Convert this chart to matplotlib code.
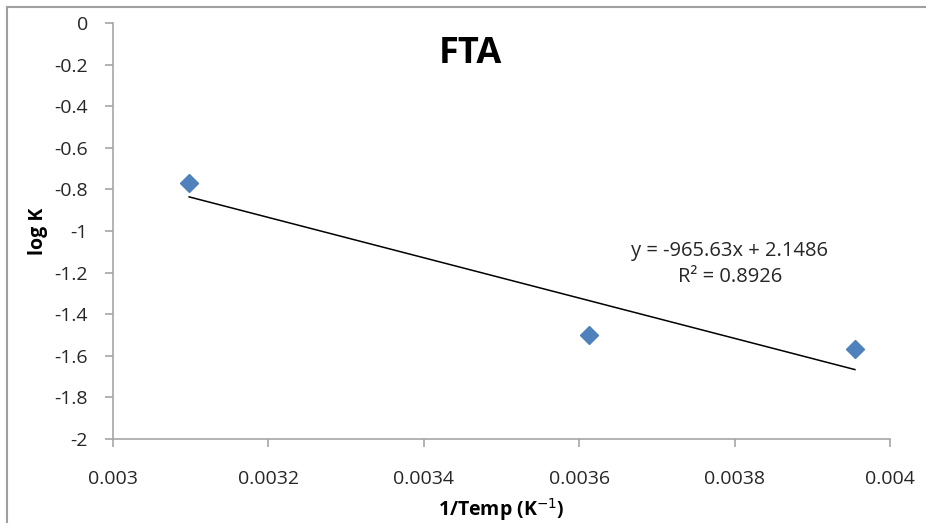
import matplotlib.pyplot as plt
import numpy as np
from matplotlib.lines import Line2D

plt.rcParams['font.family'] = ['Open Sans', 'DejaVu Sans']

# FTA data
inv_temp = [0.003098, 0.003613, 0.003955]
log_k = [-0.77, -1.50, -1.567]
eq_text = 'y = -965.63x + 2.1486\nR² = 0.8926'
xticks = [0.003, 0.0032, 0.0034, 0.0036, 0.0038, 0.004]
xticklabels = ['0.003', '0.0032', '0.0034', '0.0036', '0.0038', '0.004']
yticks = [0, -0.2, -0.4, -0.6, -0.8, -1, -1.2, -1.4, -1.6, -1.8, -2]
yticklabels = ['0', '-0.2', '-0.4', '-0.6', '-0.8', '-1', '-1.2', '-1.4', '-1.6', '-1.8', '-2']

fig = plt.figure(figsize=(9.26, 5.23), dpi=100)
ax = fig.add_axes([0.122, 0.1606, 0.839, 0.7954])

p = np.polyfit(inv_temp, log_k, 1)
fx = np.array([min(inv_temp), max(inv_temp)])
ax.plot(fx, np.polyval(p, fx), color='black', linewidth=1.1, zorder=2)
ax.plot(inv_temp, log_k, linestyle='none', marker='D', markersize=9,
        color='#4F81BD', markeredgecolor='#4F81BD', zorder=3)

ax.set_xlim([0.003, 0.004])
ax.set_ylim([-2, 0])
ax.set_xticks(xticks)
ax.set_xticklabels(xticklabels)
ax.set_yticks(yticks)
ax.set_yticklabels(yticklabels)
for s in ['top', 'right']:
    ax.spines[s].set_visible(False)
for s in ['left', 'bottom']:
    ax.spines[s].set_color('#A6A6A6')
    ax.spines[s].set_linewidth(1.2)
ax.tick_params(axis='both', colors='#A6A6A6', length=6, width=1.2,
               labelcolor='#262626', labelsize=14)
ax.tick_params(axis='x', pad=16)
ax.tick_params(axis='y', pad=12)

ax.set_xlabel('1/Temp (K$^{-1}$)', fontsize=14, fontweight='bold', labelpad=6)
ax.set_ylabel('log K', fontsize=14, fontweight='bold')
ax.yaxis.set_label_coords(-0.083, 0.5)
fig.text(0.508, 0.897, 'FTA', fontsize=26, fontweight='bold', ha='center', va='center')

ax.text(0.003794, -1.16, eq_text, ha='center', va='center', fontsize=14.5,
        color='#262626', linespacing=1.4)

# chart frame (cropped, only top and left edges visible)
fig.add_artist(Line2D([0.0075, 0.0075], [0, 0.987], transform=fig.transFigure,
                      color='#A0A0A0', linewidth=1.5))
fig.add_artist(Line2D([0.0075, 1], [0.987, 0.987], transform=fig.transFigure,
                      color='#A0A0A0', linewidth=1.5))

plt.savefig('out.png', dpi=100)
